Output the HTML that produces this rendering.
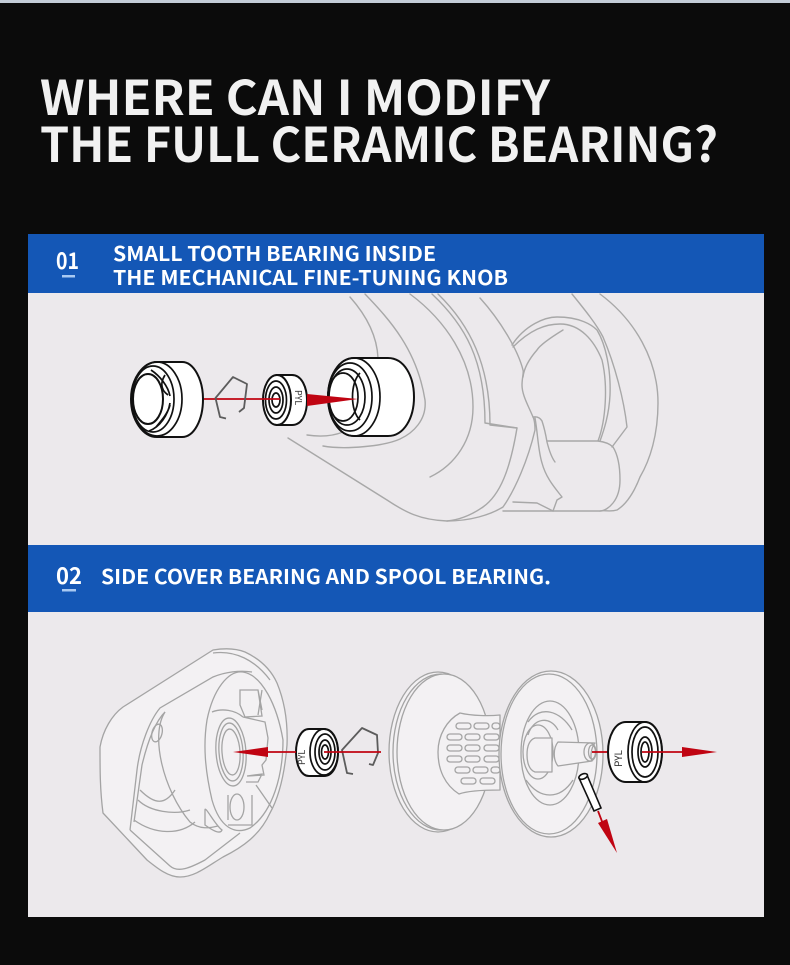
<!DOCTYPE html>
<html><head><meta charset="utf-8"><style>
html,body{margin:0;padding:0;background:#0b0b0b}
svg{display:block}
text{font-family:"Noto Sans CJK JP","Liberation Sans",sans-serif;font-weight:700;fill:#fff}
.t{fill:#f1f1f1}
.g{fill:none;stroke:#a8a8a8;stroke-width:1.4;stroke-linecap:round;stroke-linejoin:round}
.gw{fill:#f3f1f3;stroke:#a4a4a4;stroke-width:1.3;stroke-linejoin:round}
.k{fill:#fff;stroke:#111;stroke-width:2}
.n{fill:none;stroke:#111;stroke-width:1.7}
.r{stroke:#c00412;stroke-width:1.8;fill:none}
.f{fill:#c00412}
.c{fill:none;stroke:#5c5c5c;stroke-width:1.8;stroke-linejoin:round}
.h{fill:none;stroke:#a4a4a4;stroke-width:1.3}
</style></head><body>
<svg width="790" height="965" viewBox="0 0 790 965" xmlns="http://www.w3.org/2000/svg">
<rect width="790" height="965" fill="#0b0b0b"/>
<rect width="790" height="3" fill="#c4cdd8"/>
<text class="t" x="40" y="115" font-size="48" textLength="510" lengthAdjust="spacingAndGlyphs">WHERE CAN I MODIFY</text>
<text class="t" x="40" y="162" font-size="48" textLength="678" lengthAdjust="spacingAndGlyphs">THE FULL CERAMIC BEARING?</text>

<rect x="28" y="293" width="736" height="252" fill="#ece9ec"/>
<rect x="28" y="612" width="736" height="305" fill="#ece9ec"/>
<rect x="28" y="234" width="736" height="59" fill="#1457b6"/>
<rect x="28" y="545" width="736" height="67" fill="#1457b6"/>

<text x="56" y="269" font-size="23" textLength="23" lengthAdjust="spacingAndGlyphs">01</text>
<rect x="62" y="275" width="13" height="2.5" fill="#a9c9f2"/>
<text x="113" y="261" font-size="20" textLength="323" lengthAdjust="spacingAndGlyphs">SMALL TOOTH BEARING INSIDE</text>
<text x="113" y="285" font-size="20" textLength="395" lengthAdjust="spacingAndGlyphs">THE MECHANICAL FINE-TUNING KNOB</text>
<text x="56" y="584" font-size="23" textLength="26" lengthAdjust="spacingAndGlyphs">02</text>
<rect x="62" y="589" width="14" height="2.5" fill="#a9c9f2"/>
<text x="101" y="584" font-size="20" textLength="450" lengthAdjust="spacingAndGlyphs">SIDE COVER BEARING AND SPOOL BEARING.</text>

<!-- panel 1 line art -->
<g class="g">
<path d="M350 297C366 315 377 335 378 358"/>
<path d="M365 294C390 320 417 350 425 400C427 420 413 433 400 439C385 446 345 450 323 446"/>
<path d="M307 435C320 437 333 436 343 432"/>
<path d="M410 294C445 320 473 360 473 407C473 440 455 465 430 477"/>
<path d="M432 294C465 325 485 360 485 423L517 428"/>
<path d="M438 294C470 325 490 365 490 425L517 428C510 470 500 495 483 507C470 516 458 520 447 521"/>
<path d="M288 438L387 500C405 512 420 520 447 521C470 521 490 515 503 507C515 490 528 460 535 430C535 420 533 417 533 417C528 405 522 395 522 385C522 378 524 372 523 370C518 350 500 320 480 298"/>
<path d="M512 345C525 325 545 317 557 317C580 317 592 325 597 330C606 345 611 370 610 395C609 415 604 430 600 441"/>
<path d="M513 347C530 330 545 324 560 324C580 324 594 340 602 360C608 385 606 420 598 441"/>
<path d="M563 330C550 338 540 345 537 350C530 358 524 368 523 377"/>
<path d="M572 294C585 310 597 325 603 337C615 365 624 400 627 427L612 447"/>
<path d="M600 294C635 320 658 360 658 403C658 435 650 460 640 477C633 495 625 505 617 510C610 512 605 510 600 511"/>
<path d="M547 441L598 441C606 442 610 444 613 447C618 455 620 468 620 480C620 490 617 498 613 503C609 508 604 511 600 511L503 511"/>
<path d="M533 417C538 416 541 419 542 421C545 430 546 436 547 442C549 450 552 458 555 462"/>
<path d="M535 418C538 435 538 450 542 463C546 478 555 488 562 497L557 500L553 511"/>
<path d="M513 502L537 503L553 511"/>
</g>

<!-- left knob -->
<path class="k" d="M157 362H182C194 362 203 380 203 399C203 420 194 437 182 437H157C143 437 131 420 131 399C131 379 143 362 157 362Z"/>
<ellipse class="n" cx="157" cy="399" rx="25" ry="37"/>
<ellipse class="n" cx="153" cy="399" rx="21" ry="33"/>
<path class="n" d="M151 370C160 376 168 386 170 396M170 403C168 415 160 427 149 431M165 375C160 383 161 390 168 395M156 427C162 420 168 413 170 405"/>
<ellipse class="k" cx="148" cy="399" rx="15" ry="25"/>
<path class="k" d="M277 375H292C302 375 307 388 307 400C307 414 302 425 292 425H277Z" />
<line class="r" x1="204" y1="399" x2="280" y2="399"/>
<path class="c" d="M226 418.5L220 417L215.500 398L233 377L247 384L244 408L239 412"/>
<ellipse class="k" cx="277" cy="400" rx="14" ry="25"/>
<ellipse class="n" cx="276" cy="400" rx="10.500" ry="19"/>
<ellipse class="n" cx="276" cy="400" rx="7" ry="13"/>
<ellipse class="n" cx="276" cy="400" rx="4" ry="7"/>
<line class="r" x1="262" y1="399" x2="280" y2="399"/>
<text transform="translate(295 390) rotate(90)" style="font-weight:400;fill:#333;font-size:9px">PYL</text>
<!-- big knob -->
<path class="k" d="M354 358H388C404 358 414 376 414 397C414 418 404 436 388 436H354C339 436 328 418 328 397C328 376 339 358 354 358Z"/>
<ellipse class="n" cx="354" cy="397" rx="26" ry="39"/>
<ellipse class="n" cx="350" cy="397" rx="22" ry="34"/>
<ellipse class="n" cx="347" cy="397" rx="18" ry="28"/>
<ellipse class="n" cx="343" cy="397" rx="15" ry="24"/>
<path class="n" d="M360 373C350 383 350 411 360 420"/>
<polygon class="f" points="307,394 358,399 307,406"/>

<!-- reel side cover -->
<path class="gw" d="M100 747C103 730 112 715 123 707L213 650C225 648 235 648 245 652C262 660 272 672 277 683C284 700 288 720 287 745C285 770 280 795 270 813C260 835 243 847 223 857C208 866 195 877 180 877C168 877 157 868 147 860L103 813C100 790 100 770 100 747Z"/>
<path class="h" d="M213 653C235 650 255 660 270 680"/>
<path class="h" d="M130 830L137 770C140 745 150 720 160 708L213 677C225 672 240 670 252 672"/>
<path class="h" d="M130 830L170 866C178 873 190 868 205 860L240 833"/>
<path class="h" d="M134 822L142 765C148 740 155 722 165 712"/>
<path class="gw" d="M243 672C262 675 277 705 283 740C283 775 273 812 250 828C235 835 220 828 212 800C205 770 203 745 207 720C213 690 228 670 243 672Z"/>
<path class="h" d="M165 712C150 735 163 790 190 822C200 830 210 828 218 826"/>
<path class="h" d="M138 800C150 812 175 815 190 810M134 820C155 835 180 835 195 822M140 790C155 805 165 805 175 790"/>
<path class="h" d="M205 810C205 805 215 825 222 830C220 835 212 830 205 825Z"/>
<ellipse class="h" cx="157" cy="733" rx="5" ry="9" transform="rotate(15 157 733)"/>
<ellipse class="h" cx="231" cy="752" rx="15" ry="34" transform="rotate(-4 231 752)"/>
<ellipse class="h" cx="231" cy="752" rx="12" ry="29" transform="rotate(-4 231 752)"/>
<ellipse class="h" cx="231" cy="752" rx="9" ry="23" transform="rotate(-4 231 752)"/>
<path class="h" d="M212 712C222 708 235 710 243 717M243 717L265 722L268 738L266 760L262 765L264 775L248 776M240 690L240 705L245 717L262 716L258 690ZM246 690H258L262 710M247 776L262 774L258 782L246 782M228 795V820M252 795V825H228"/>
<ellipse class="h" cx="237" cy="807" rx="7" ry="13"/>
<path class="h" d="M256 785L272 808M262 690L258 715"/>

<!-- bearing 2 -->
<path class="k" d="M309 729H324C333 729 338 740 338 752C338 765 333 776 324 776H309C301 776 296 765 296 752C296 740 301 729 309 729Z"/>
<ellipse class="n" cx="324" cy="752" rx="14" ry="23"/>
<ellipse class="n" cx="325" cy="752" rx="10" ry="18"/>
<ellipse class="n" cx="325" cy="752" rx="6" ry="12"/>
<ellipse class="n" cx="325" cy="752" rx="3.500" ry="7"/>
<text transform="translate(305 765) rotate(-90)" style="font-weight:400;fill:#333;font-size:9px">PYL</text>
<path class="c" d="M353 774L347 773L342 750L362 728L377 735L378 753L373 765L369 764"/>
<line class="r" x1="268" y1="752" x2="296" y2="752"/>
<line class="r" x1="324" y1="752" x2="381" y2="752"/>
<polygon class="f" points="233,752 268,747 268,757"/>

<!-- spool -->
<ellipse class="gw" cx="438" cy="752" rx="49" ry="80"/>
<ellipse class="h" cx="441" cy="752" rx="48" ry="78"/>
<ellipse class="gw" cx="444" cy="752" rx="47" ry="78"/>
<path class="gw" d="M460 713C472 716 490 716 500 715L500 790C490 790 470 790 459 794C445 785 438 770 438 752C438 735 447 720 460 713Z"/>
<g class="h">
<rect x="456" y="723" width="15" height="6" rx="3"/><rect x="474" y="723" width="15" height="6" rx="3"/><rect x="492" y="723" width="8" height="6" rx="3"/>
<rect x="447" y="734" width="15" height="6" rx="3"/><rect x="465" y="734" width="15" height="6" rx="3"/><rect x="484" y="734" width="15" height="6" rx="3"/>
<rect x="447" y="745" width="15" height="6" rx="3"/><rect x="465" y="745" width="15" height="6" rx="3"/><rect x="484" y="745" width="15" height="6" rx="3"/>
<rect x="447" y="756" width="15" height="6" rx="3"/><rect x="465" y="756" width="15" height="6" rx="3"/><rect x="484" y="756" width="15" height="6" rx="3"/>
<rect x="455" y="767" width="15" height="6" rx="3"/><rect x="473" y="767" width="15" height="6" rx="3"/><rect x="491" y="767" width="9" height="6" rx="3"/>
<rect x="461" y="778" width="15" height="6" rx="3"/><rect x="480" y="778" width="15" height="6" rx="3"/>
</g>
<ellipse class="gw" cx="551" cy="754" rx="52" ry="83"/>
<ellipse class="h" cx="549" cy="754" rx="48" ry="80"/>
<ellipse class="h" cx="550" cy="753" rx="29" ry="52"/>
<path class="h" d="M528 722C540 705 560 710 572 730M526 780C540 800 560 800 573 780M528 735C533 718 550 715 558 730"/>
<ellipse class="h" cx="538" cy="752" rx="15" ry="27"/>
<path class="gw" d="M535 738H552V772H535C529 770 527 762 527 755C527 747 529 740 535 738Z"/>
<path class="gw" d="M558 742L595 743C591 748 590 757 592 761L558 766C553 760 553 748 558 742Z"/>
<ellipse class="h" cx="590" cy="752" rx="6" ry="9"/>
<ellipse class="h" cx="592" cy="752" rx="3.500" ry="7"/>
<line class="r" x1="592" y1="752" x2="608" y2="752"/>

<!-- pin -->
<path class="k" d="M579 778L587 775L601 808L594 811Z" style="stroke-width:1.6"/>
<ellipse class="k" cx="583" cy="776.500" rx="4.500" ry="2.500" transform="rotate(-22 583 776)" style="stroke-width:1.6"/>
<line class="r" x1="598" y1="811" x2="603" y2="824"/>
<polygon class="f" points="598,823 607,819 617,853"/>

<!-- bearing 3 -->
<path class="k" d="M626 722H645C655 722 662 736 662 752C662 768 655 782 645 782H626C615 782 608 768 608 752C608 736 615 722 626 722Z"/>
<ellipse class="n" cx="645" cy="752" rx="17" ry="30"/>
<ellipse class="n" cx="645" cy="752" rx="13" ry="25"/>
<ellipse class="n" cx="645" cy="752" rx="7" ry="15"/>
<ellipse class="n" cx="645" cy="752" rx="4" ry="10"/>
<text transform="translate(622 767) rotate(-90)" style="font-weight:400;fill:#333;font-size:10px">PYL</text>
<line class="r" x1="642" y1="752" x2="683" y2="752"/>
<polygon class="f" points="682,747 717,752 682,757"/>
</svg>
</body></html>
